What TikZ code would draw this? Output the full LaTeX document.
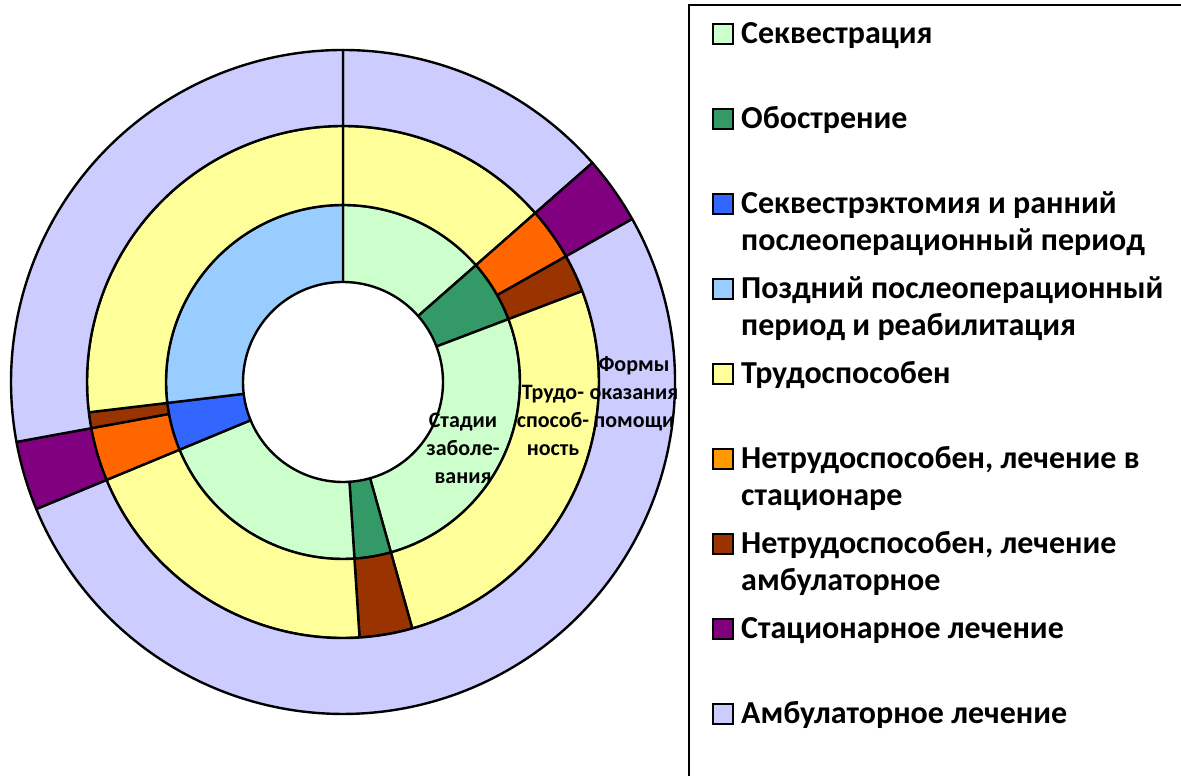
\documentclass[tikz,border=0pt]{standalone}
\usepackage{fontspec}
\setmainfont{Carlito}
\definecolor{seqgreen}{HTML}{CCFFCC}
\definecolor{exgreen}{HTML}{339966}
\definecolor{opblue}{HTML}{3366FF}
\definecolor{lateblue}{HTML}{99CCFF}
\definecolor{workyel}{HTML}{FFFF99}
\definecolor{inpor}{HTML}{FF6600}
\definecolor{inporkey}{HTML}{FF9900}
\definecolor{ambbr}{HTML}{993300}
\definecolor{statpur}{HTML}{800080}
\definecolor{amblav}{HTML}{CCCCFF}

\begin{document}
\begin{tikzpicture}[x=1pt,y=1pt,
    ring/.style={draw=black,line width=2.4pt,line join=round},
    key/.style={draw=black,line width=1.6pt},
    legtext/.style={inner sep=0pt,align=left,font=\bfseries\fontsize{32}{37}\selectfont},
    ringlabel/.style={inner sep=0pt,align=center,font=\bfseries\fontsize{22}{28}\selectfont}]
    \useasboundingbox (0,0) rectangle (1181,776);
    % draw the three rings, clockwise from the top
    \begin{scope}[shift={(343,394)}]
        \foreach \ri/\ro/\a/\b/\c in {
            100/177/41.3/90/seqgreen, 100/177/20.8/41.3/exgreen,
            100/177/-74.3/20.8/seqgreen, 100/177/-86.3/-74.3/exgreen,
            100/177/-157.5/-86.3/seqgreen, 100/177/-173.2/-157.5/opblue,
            100/177/-270/-173.2/lateblue,
            177/256/41.3/90/workyel, 177/256/29.4/41.3/inpor,
            177/256/20.8/29.4/ambbr, 177/256/-74.3/20.8/workyel,
            177/256/-86.3/-74.3/ambbr, 177/256/-157.5/-86.3/workyel,
            177/256/-169.6/-157.5/inpor, 177/256/-173.2/-169.6/ambbr,
            177/256/-270/-173.2/workyel,
            256/332/41.3/90/amblav, 256/332/29.4/41.3/statpur,
            256/332/-157.5/29.4/amblav, 256/332/-169.6/-157.5/statpur,
            256/332/-270/-169.6/amblav}
        \filldraw[ring,fill=\c] (\a:\ri) arc (\a:\b:\ri) -- (\b:\ro) arc (\b:\a:\ro) -- cycle;
    \end{scope}
    % draw ring names
    \node[ringlabel] (stages) at (463,328) {Стадии\\заболе-\\вания};
    \node[ringlabel] (capacity) at (553,356) {Трудо-\\способ-\\ность};
    \node[ringlabel] (forms) at (634,382) {Формы\\оказания\\помощи};
    % draw legend frame
    \draw[line width=2pt] (1181,771) -- (689,771) -- (689,0);
    % draw legend entries (\n = number of text lines)
    \foreach \k/\n/\c/\t in {
        0/1/seqgreen/{Секвестрация},
        1/1/exgreen/{Обострение},
        2/2/opblue/{Секвестрэктомия и ранний\\послеоперационный период},
        3/2/lateblue/{Поздний послеоперационный\\период и реабилитация},
        4/1/workyel/{Трудоспособен},
        5/2/inporkey/{Нетрудоспособен, лечение в\\стационаре},
        6/2/ambbr/{Нетрудоспособен, лечение\\амбулаторное},
        7/1/statpur/{Стационарное лечение},
        8/1/amblav/{Амбулаторное лечение}}
    {
        \draw[key,fill=\c] (713,732-85*\k) rectangle ++(20,20);
        \node[legtext,anchor=base west] (entry\k) at (741,732-85*\k-37*\n+37) {\t};
    }
\end{tikzpicture}
\end{document}
